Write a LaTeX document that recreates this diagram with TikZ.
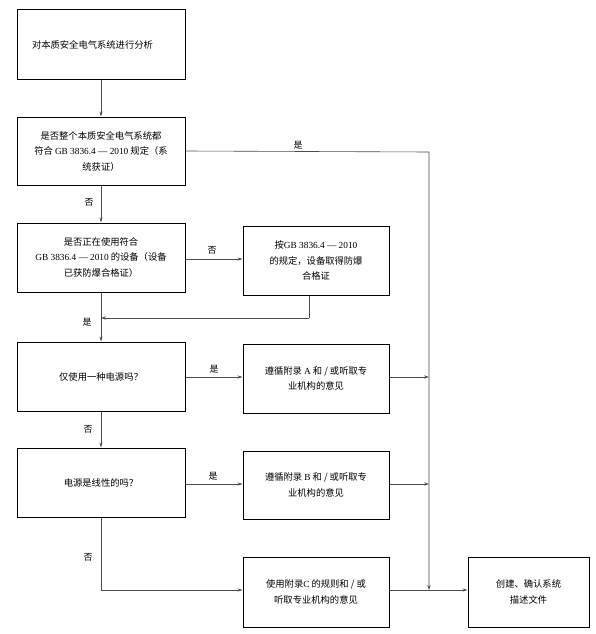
\documentclass[tikz,border=0pt]{standalone}
\usepackage{fontspec}
\setmainfont{Liberation Serif}
\newfontfamily\cjk{Noto Sans CJK SC}
\usetikzlibrary{arrows.meta}
\newcommand\lt[1]{{\rmfamily #1}}
\begin{document}
\begin{tikzpicture}[x=1pt,y=-1pt,
  box/.style={draw=black,line width=1pt,inner sep=2pt,align=center,
    font=\cjk\fontsize{9.3}{15.5}\selectfont},
  conn/.style={draw=black!70,line width=0.6pt},
  arr/.style={conn,-{Stealth[length=5pt,width=3.2pt]}},
  lab/.style={font=\cjk\fontsize{9}{10}\selectfont,inner sep=1pt}]
\useasboundingbox (0,0) rectangle (596,634);
\fill[white] (0,0) rectangle (596,634);
% boxes
\node[box,minimum width=168pt,minimum height=69pt,align=left,text width=150pt] (b1) at (101,44.5) {\hspace*{6pt}对本质安全电气系统进行分析};
\node[box,minimum width=168pt,minimum height=68pt] (b2) at (101,151) {是否整个本质安全电气系统都\\符合 \lt{GB 3836.4 — 2010} 规定（系\\统获证）};
\node[box,minimum width=168pt,minimum height=69pt] (b3) at (101,257.5) {是否正在使用符合\\\lt{GB 3836.4 — 2010} 的设备（设备\\已获防爆合格证）};
\node[box,minimum width=146pt,minimum height=69pt] (b4) at (316,260.5) {按\lt{GB 3836.4 — 2010}\\的规定，设备取得防爆\\合格证};
\node[box,minimum width=168pt,minimum height=69pt] (b5) at (101,376.5) {仅使用一种电源吗？};
\node[box,minimum width=146pt,minimum height=69pt] (b6) at (316,378.5) {遵循附录 \lt{A} 和 / 或听取专\\业机构的意见};
\node[box,minimum width=168pt,minimum height=69pt] (b7) at (101,482.5) {电源是线性的吗？};
\node[box,minimum width=146pt,minimum height=68pt] (b8) at (316,485) {遵循附录 \lt{B} 和 / 或听取专\\业机构的意见};
\node[box,minimum width=146pt,minimum height=70pt] (b9) at (316,592) {使用附录\lt{C} 的规则和 / 或\\听取专业机构的意见};
\node[box,minimum width=121pt,minimum height=70pt] (b10) at (528.5,592) {创建、确认系统\\描述文件};
% coordinates
\coordinate (c1) at (429,152);
\coordinate (J) at (429,590);
\coordinate (c2) at (309,318);
\coordinate (c3) at (101,318);
\coordinate (c6) at (429,377);
\coordinate (c8) at (429,484);
\coordinate (c7) at (101,590);
% connectors
\draw[arr] (b1) -- (b2);
\draw[arr] (b2) -- (b3);
\draw[arr] (b2.east) -- (c1) -- (J);
\draw[arr] (b3.east |- 0,259) -- (b4.west |- 0,259);
\draw[conn] (b4.south -| c2) -- (c2);
\draw[arr] (c2) -- (c3);
\draw[arr] (b3) -- (b5);
\draw[arr] (b5.east |- 0,377) -- (b6.west |- 0,377);
\draw[arr] (b6.east |- c6) -- (c6);
\draw[arr] (b5) -- (b7);
\draw[arr] (b7.east |- 0,484) -- (b8.west |- 0,484);
\draw[arr] (b8.east |- c8) -- (c8);
\draw[arr] (b7.south) -- (c7) -- (b9.west |- c7);
\draw[arr] (b9.east |- J) -- (b10.west |- J);
% labels
\node[lab] (l1) at (298,145) {是};
\node[lab] (l2) at (89,202) {否};
\node[lab] (l3) at (212,250) {否};
\node[lab] (l4) at (87,322) {是};
\node[lab] (l5) at (214,369) {是};
\node[lab] (l6) at (88,429) {否};
\node[lab] (l7) at (213,476) {是};
\node[lab] (l8) at (88,557) {否};
\end{tikzpicture}
\end{document}
